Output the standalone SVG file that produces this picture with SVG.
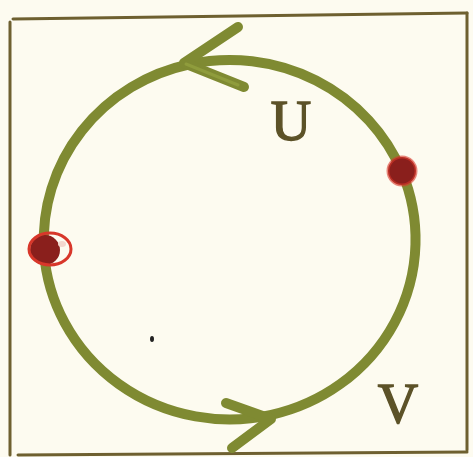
<svg xmlns="http://www.w3.org/2000/svg" width="473" height="457" viewBox="0 0 473 457">
  <defs>
    <style>
      .frame { fill: none; stroke: #6e6030; stroke-width: 3; stroke-linecap: round; }
      .arc { fill: none; stroke: #7f8a32; stroke-width: 10; stroke-linecap: round; stroke-linejoin: round; }
      .arcHi { fill: none; stroke: #9aa842; stroke-width: 3; stroke-linecap: round; stroke-linejoin: round; opacity: 0.6; }
      .lbl { font-family: "Liberation Serif", "DejaVu Serif", serif; fill: #5c5228; stroke: #5c5228; stroke-width: 1.4; text-anchor: middle; }
      .dotCore { fill: #8a1f1c; }
      .dotRim { fill: none; stroke: #d8372a; stroke-width: 3; }
    </style>
  </defs>
  <rect x="0" y="0" width="473" height="457" fill="#fdfbf0"/>
  <g id="frame">
    <path class="frame" d="M 13 19 L 467 13"/>
    <path class="frame" d="M 10 22 L 10 455"/>
    <path class="frame" d="M 467 13 L 467 450"/>
    <path class="frame" d="M 18 455 L 467 452"/>
  </g>
  <g id="connectors">
    <g id="arc-U">
      <path class="arc" d="M 402 172 A 186 180 0 0 0 44 249"/>
      <path class="arc" d="M 238 27 L 184 63 L 244 87"/>
      <path class="arcHi" d="M 186 64 L 238 85"/>
    </g>
    <g id="arc-V">
      <path class="arc" d="M 44 252 A 186 180 0 1 0 402 172"/>
      <path class="arc" d="M 226 403 L 271 419 L 232 448"/>
    </g>
  </g>
  <g id="node-right">
    <circle class="dotCore" cx="402" cy="171" r="14"/>
    <circle class="dotRim" cx="402" cy="171" r="14" opacity="0.6"/>
  </g>
  <g id="node-left">
    <circle class="dotCore" cx="45" cy="250" r="15"/>
    <ellipse class="dotRim" cx="50" cy="249" rx="21" ry="16"/>
    <ellipse cx="62" cy="244" rx="4" ry="3" fill="#f3d8cf"/>
  </g>
  <g id="label-U">
    <text class="lbl" x="291" y="140" font-size="56">U</text>
  </g>
  <g id="label-V">
    <text class="lbl" x="398" y="423" font-size="56">V</text>
  </g>
  <ellipse cx="152" cy="339" rx="2" ry="3" fill="#222"/>
</svg>
